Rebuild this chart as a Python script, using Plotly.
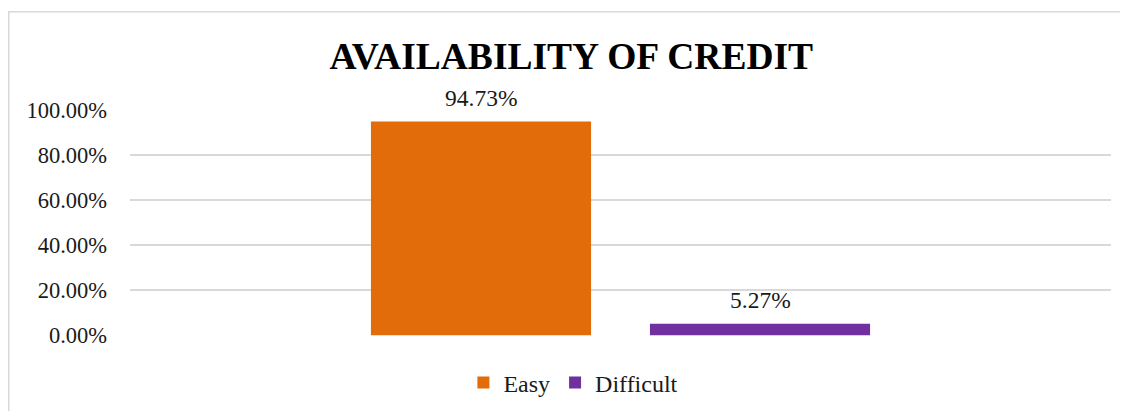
import plotly.graph_objects as go

# 데이터
series_names = ['Easy', 'Difficult']
series_values = [0.9473, 0.0527]
colors = ['#E36C0A', '#7030A0']
y_ticks = [0, 0.2, 0.4, 0.6, 0.8, 1.0]

serif = 'Liberation Serif, Times New Roman, serif'

fig = go.Figure()
for name, val, col in zip(series_names, series_values, colors):
    fig.add_trace(go.Bar(
        x=[name],
        y=[val],
        name=name,
        width=0.789,
        marker_color=col,
        marker_line_width=0,
    ))
    # 데이터 레이블
    fig.add_annotation(
        x=name, y=val, xref='x', yref='y',
        text=f"{val:.2%}",
        showarrow=False,
        yanchor='middle', yshift=24,
        font=dict(family=serif, size=23.5, color='#1a1a1a'),
    )

# 페이지 여백(8px) 보정
fig.update_layout(
    width=1120,
    height=403,
    margin=dict(l=122, r=17, t=101, b=70),
    paper_bgcolor='white',
    plot_bgcolor='white',
    barmode='overlay',
    title=dict(
        text='<b>AVAILABILITY OF CREDIT</b>',
        x=0.503, xref='container', xanchor='center',
        y=0.881, yref='container', yanchor='middle',
        font=dict(family=serif, size=37.5, color='#000000'),
    ),
    legend=dict(
        orientation='h',
        xref='paper', x=0.452, xanchor='center',
        yref='container', y=0.0695, yanchor='middle',
        font=dict(family=serif, size=24, color='#1a1a1a'),
        itemwidth=30,
        traceorder='normal',
    ),
    showlegend=True,
)

fig.update_xaxes(
    range=[-1.258, 2.258],
    showticklabels=False, showgrid=False, zeroline=False, showline=False,
)
fig.update_yaxes(
    range=[0, 1.003],
    tickvals=y_ticks,
    tickformat='.2%',
    showgrid=True,
    gridcolor='#d9d9d9',
    gridwidth=1.5,
    zeroline=False,
    showline=False,
    ticks='',
    ticklabelstandoff=22,
    tickfont=dict(family=serif, size=22.5, color='#1a1a1a'),
)

# 차트 테두리
fig.add_shape(
    type='rect', xref='paper', yref='paper',
    x0=-0.1236, x1=1.2, y0=-1.0, y1=1.4286,
    line=dict(color='#d9d9d9', width=1.5),
    fillcolor='rgba(0,0,0,0)', layer='below',
)

fig.write_html("out.html")
